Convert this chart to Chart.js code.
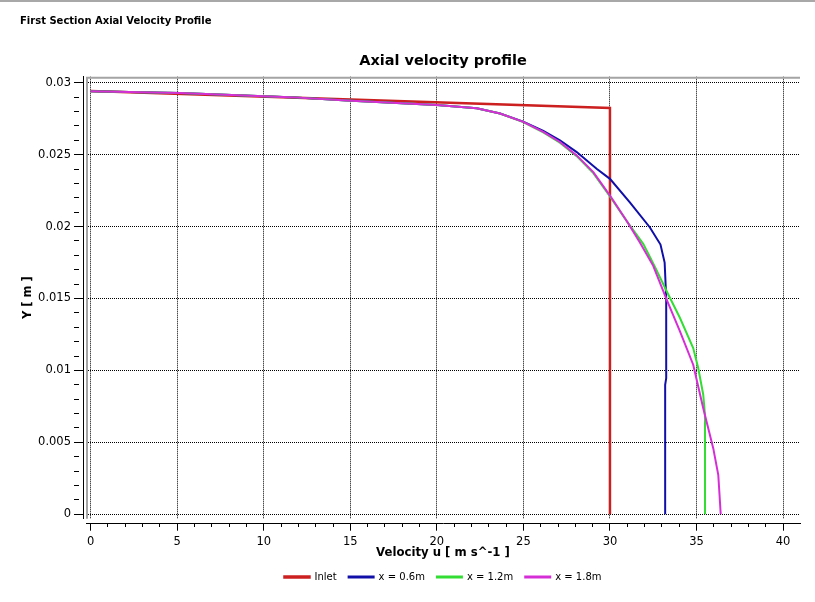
<!DOCTYPE html>
<html>
<head>
<meta charset="utf-8">
<script src="https://cdn.jsdelivr.net/npm/chart.js@4.4.1/dist/chart.umd.min.js"></script>
<style>
  body { margin: 0; background: #fff; }
  #wrap { position: relative; width: 815px; height: 602px; }
  #topline { position: absolute; left: 0; top: 0; width: 815px; height: 2px; background: #a8a8a8; }
  #caption { position: absolute; left: 20px; top: 15px; font: bold 10px "DejaVu Sans", sans-serif; color: #000; }
  #box { position: absolute; left: 0; top: 0; width: 815px; height: 602px; }
</style>
</head>
<body>
<div id="wrap">
  <div id="box"><canvas id="mycanvas"></canvas></div>
  <div id="topline"></div>
  <div id="caption">First Section Axial Velocity Profile</div>
</div>
<script>
// values: u in m/s, Y in m
var seriesNames = ["Inlet", "x = 0.6m", "x = 1.2m", "x = 1.8m"];
var seriesColors = ["#cc1f1f", "#1010a8", "#33dd33", "#d62ed6"];

var inletU = [0, 30, 30];
var inletY = [0.02942, 0.02825, 0];

var u06 = [0, 5.17, 11.5, 14.8, 20.0, 22.3, 23.65, 24.99, 26.15, 27.11, 28.08, 29.23, 30.0, 31.15, 32.31, 32.92, 33.16, 33.25, 33.25, 33.19, 33.19];
var y06 = [0.02941, 0.02928, 0.02900, 0.02876, 0.02846, 0.02822, 0.02786, 0.02730, 0.02665, 0.02600, 0.02518, 0.02402, 0.02332, 0.02169, 0.01994, 0.01875, 0.01750, 0.01506, 0.00947, 0.00900, 0];

var u12 = [0, 5.17, 11.5, 14.8, 20.0, 22.3, 23.65, 24.99, 26.15, 27.11, 28.08, 29.04, 30.0, 30.96, 31.93, 32.6, 33.27, 34.04, 34.81, 35.10, 35.39, 35.49, 35.49];
var y12 = [0.02941, 0.02928, 0.02900, 0.02876, 0.02846, 0.02822, 0.02786, 0.02726, 0.02655, 0.02583, 0.02490, 0.02372, 0.02210, 0.02040, 0.01878, 0.01720, 0.01552, 0.01366, 0.01156, 0.01017, 0.00831, 0.00691, 0];

var u18 = [0, 5.17, 11.5, 14.8, 20.0, 22.3, 23.65, 24.99, 26.15, 27.11, 28.08, 29.04, 30.0, 30.96, 31.73, 32.50, 33.27, 34.04, 34.81, 35.39, 35.97, 36.26, 36.40];
var y18 = [0.02941, 0.02928, 0.02900, 0.02876, 0.02846, 0.02822, 0.02786, 0.02728, 0.02658, 0.02588, 0.02495, 0.02379, 0.02216, 0.02041, 0.01890, 0.01727, 0.01494, 0.01273, 0.01040, 0.00737, 0.00458, 0.00272, 0];

var xMin = -0.27, xMax = 40.98;
var yMin = -0.000307, yMax = 0.03042;

function pts(us, ys) {
	var out = [];
	for (var i = 0; i < us.length; i++) {
		out.push({x: us[i], y: ys[i]});
	}
	return out;
}

var allU = [inletU, u06, u12, u18];
var allY = [inletY, y06, y12, y18];
var widths = [2.5, 2, 2, 2];

var datasets = [];
for (var i = 0; i < seriesNames.length; i++) {
	datasets.push({
		label: seriesNames[i],
		data: pts(allU[i], allY[i]),
		borderColor: seriesColors[i],
		backgroundColor: seriesColors[i],
		borderWidth: widths[i],
		showLine: true,
		pointRadius: 0,
		fill: false,
		order: seriesNames.length - i
	});
}

// grey sunken frame on the left and top of the plot
var framePlugin = {
	id: 'frame',
	beforeDatasetsDraw: function(chart) {
		var a = chart.chartArea, c = chart.ctx;
		c.save();
		c.strokeStyle = '#a4a4a4';
		c.lineWidth = 2;
		c.beginPath();
		c.moveTo(a.left + 1, a.bottom);
		c.lineTo(a.left + 1, a.top + 1);
		c.lineTo(a.right, a.top + 1);
		c.stroke();
		c.restore();
	}
};

var font = "DejaVu Sans";
var ctx = document.getElementById("mycanvas");

var chart = new Chart(ctx, {
	type: 'scatter',
	data: {datasets: datasets},
	plugins: [framePlugin],
	options: {
		responsive: true,
		maintainAspectRatio: false,
		animation: false,
		layout: {padding: {left: 0, right: 15, top: 40, bottom: 10}},
		plugins: {
			title: {
				display: true,
				text: 'Axial velocity profile',
				fullSize: false,
				color: '#000',
				font: {family: font, size: 14.5, weight: 'bold'},
				padding: {top: 12.3, bottom: 7}
			},
			legend: {
				position: 'bottom',
				fullSize: false,
				labels: {
					color: '#000',
					font: {family: font, size: 10},
					boxWidth: 25,
					boxHeight: 1,
					padding: 12,
					sort: function(a, b) { return a.datasetIndex - b.datasetIndex; }
				}
			},
			tooltip: {enabled: false}
		},
		scales: {
			x: {
				type: 'linear', position: 'bottom', weight: 0,
				min: xMin, max: xMax,
				ticks: {display: false, stepSize: 5, includeBounds: false, maxTicksLimit: 100},
				grid: {color: '#000', lineWidth: 1, tickLength: 5, tickColor: 'rgba(0,0,0,0)'},
				border: {display: false, dash: [1, 1]},
				afterFit: function(s) { s.height = 5; }
			},
			x2: {
				type: 'linear', position: 'bottom', weight: 1,
				min: xMin, max: xMax,
				ticks: {
					stepSize: 1, includeBounds: false, autoSkip: false, maxTicksLimit: 100,
					maxRotation: 0, minRotation: 0, padding: 4,
					color: '#000', font: {family: font, size: 11.5},
					callback: function(v) { return (Math.round(v) % 5 === 0) ? String(Math.round(v)) : ''; }
				},
				grid: {
					drawOnChartArea: false, tickLength: 7, tickColor: '#000',
					tickBorderDash: function(c) { return (c.tick && Math.round(c.tick.value) % 5 !== 0) ? [3, 20] : []; }
				},
				border: {display: true, color: '#000', width: 1},
				title: {display: true, text: 'Velocity u [ m s^-1 ]', color: '#000', font: {family: font, size: 11.7, weight: 'bold'}, padding: {top: 0, bottom: 0}},
				afterFit: function(s) { s.height = 36.3; }
			},
			y: {
				type: 'linear', position: 'left', weight: 0,
				min: yMin, max: yMax,
				ticks: {display: false, stepSize: 0.005, includeBounds: false, maxTicksLimit: 100},
				grid: {color: '#000', lineWidth: 1, tickLength: 3, tickColor: 'rgba(0,0,0,0)'},
				border: {display: false, dash: [1, 1]},
				afterFit: function(s) { s.width = 3; }
			},
			y2: {
				type: 'linear', position: 'left', weight: 1,
				min: yMin, max: yMax,
				ticks: {
					stepSize: 0.001, includeBounds: false, autoSkip: false, maxTicksLimit: 100, padding: 3,
					color: '#000', font: {family: font, size: 11.5},
					callback: function(v) {
						var m = Math.round(v * 1000);
						return (m % 5 === 0) ? String(m / 1000) : '';
					}
				},
				grid: {
					drawOnChartArea: false, tickLength: 9, tickColor: '#000',
					tickBorderDash: function(c) { return (c.tick && Math.round(c.tick.value * 1000) % 5 !== 0) ? [5, 20] : []; }
				},
				border: {display: true, color: '#000', width: 1},
				title: {display: true, text: 'Y [ m ]', color: '#000', font: {family: font, size: 11.5, weight: 'bold'}, padding: {top: 21, bottom: 0}},
				afterFit: function(s) { s.width = 83; }
			}
		}
	}
});
</script>
</body>
</html>
